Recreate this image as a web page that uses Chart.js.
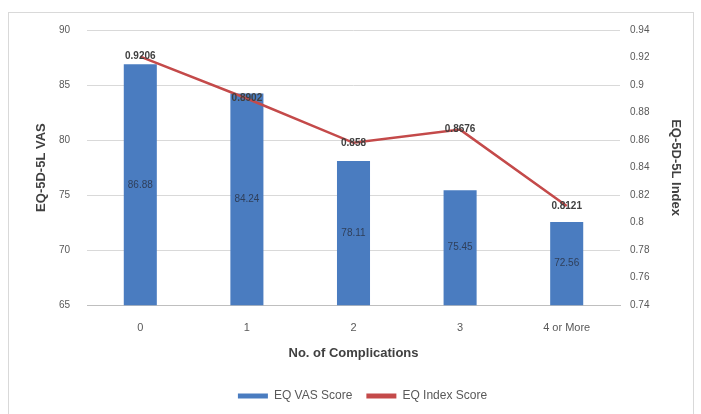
<!DOCTYPE html>
<html lang="en">
<head>
<meta charset="utf-8">
<title>EQ-5D-5L by complications</title>
<script src="https://cdn.jsdelivr.net/npm/chart.js"></script>
<style>
  html, body { margin: 0; padding: 0; background: #fff; }
  #wrap { position: relative; width: 701px; height: 414px; }
  #frame { position: absolute; left: 8px; top: 12px; width: 686px; height: 410px; border: 1px solid #d9d9d9; box-sizing: border-box; }
</style>
</head>
<body>
<div id="wrap">
  <div id="frame"></div>
  <canvas id="chart" width="701" height="414"></canvas>
</div>
<script>
// data
const complications = ['0', '1', '2', '3', '4 or More'];
const vasScore = [86.88, 84.24, 78.11, 75.45, 72.56];
const indexScore = [0.9206, 0.8902, 0.858, 0.8676, 0.8121];

const FONT = '"Liberation Sans", Arial, sans-serif';

// value labels like Excel: centered inside bars, centered on line points
const valueLabels = {
  id: 'valueLabels',
  afterDraw(chart) {
    const ctx = chart.ctx;
    const ys = chart.scales.y, y1 = chart.scales.y1, xs = chart.scales.x;
    ctx.save();
    ctx.textAlign = 'center';
    ctx.textBaseline = 'middle';
    vasScore.forEach((v, i) => {
      const x = xs.getPixelForValue(i);
      const top = ys.getPixelForValue(v);
      ctx.font = '10px ' + FONT;
      ctx.fillStyle = '#2f3f5a';
      ctx.fillText(v.toFixed(2), x, (top + ys.bottom) / 2);
    });
    indexScore.forEach((v, i) => {
      ctx.font = 'bold 10px ' + FONT;
      ctx.fillStyle = '#404040';
      ctx.fillText(String(v), xs.getPixelForValue(i), y1.getPixelForValue(v));
    });
    ctx.restore();
  }
};

new Chart(document.getElementById('chart'), {
  data: {
    labels: complications,
    datasets: [
      {
        type: 'bar',
        label: 'EQ VAS Score',
        data: vasScore,
        yAxisID: 'y',
        backgroundColor: '#4a7cc0',
        barPercentage: 0.62,
        categoryPercentage: 0.5,
        order: 2
      },
      {
        type: 'line',
        label: 'EQ Index Score',
        data: indexScore,
        yAxisID: 'y1',
        borderColor: '#c44a4a',
        backgroundColor: '#c44a4a',
        borderWidth: 2.5,
        pointRadius: 0,
        tension: 0,
        order: 1
      }
    ]
  },
  options: {
    responsive: false,
    animation: false,
    layout: { padding: { left: 34, right: 10, top: 30, bottom: 2 } },
    plugins: {
      tooltip: { enabled: false },
      legend: {
        position: 'bottom',
        labels: {
          font: { family: FONT, size: 12 },
          color: '#595959',
          boxWidth: 30,
          boxHeight: 5,
          padding: 14,
          generateLabels(chart) {
            return chart.data.datasets.map((ds, i) => ({
              text: ds.label,
              fillStyle: ds.backgroundColor,
              strokeStyle: ds.backgroundColor,
              lineWidth: 0,
              datasetIndex: i,
              fontColor: '#595959'
            }));
          }
        }
      }
    },
    scales: {
      x: {
        grid: { display: false },
        border: { color: '#bfbfbf' },
        ticks: { font: { family: FONT, size: 11 }, color: '#595959', padding: 8 },
        title: {
          display: true,
          text: 'No. of Complications',
          font: { family: FONT, size: 13, weight: 'bold' },
          color: '#404040',
          padding: { top: 3, bottom: 15 }
        }
      },
      y: {
        position: 'left',
        min: 65,
        max: 90,
        afterFit(scale) { scale.width = 53; },
        ticks: { stepSize: 5, font: { family: FONT, size: 10 }, color: '#595959', padding: 17 },
        grid: { color: '#d9d9d9', drawTicks: false },
        border: { display: false },
        title: {
          display: true,
          text: 'EQ-5D-5L VAS',
          font: { family: FONT, size: 13, weight: 'bold' },
          color: '#404040',
          padding: { top: 0, bottom: 4 }
        }
      },
      y1: {
        position: 'right',
        min: 0.74,
        max: 0.94,
        afterFit(scale) { scale.width = 71; },
        ticks: {
          stepSize: 0.02,
          font: { family: FONT, size: 10 },
          color: '#595959',
          padding: 10,
          callback: v => String(parseFloat(v.toFixed(2)))
        },
        grid: { display: false, drawTicks: false },
        border: { display: false },
        title: {
          display: true,
          text: 'EQ-5D-5L Index',
          font: { family: FONT, size: 13, weight: 'bold' },
          color: '#404040',
          padding: { top: 8, bottom: 4 }
        }
      }
    }
  },
  plugins: [valueLabels]
});
</script>
</body>
</html>
